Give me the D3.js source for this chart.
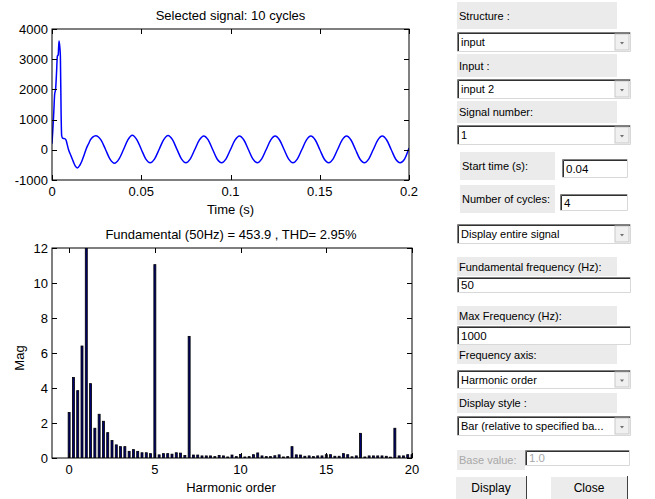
<!DOCTYPE html>
<html>
<head>
<meta charset="utf-8">
<script src="https://cdn.jsdelivr.net/npm/d3@7"></script>
<style>
  body { margin: 0; background: #fff; }
  svg { display: block; }
  text { font-family: "Liberation Sans", Arial, sans-serif; }
</style>
</head>
<body>
<svg id="canvas" width="655" height="499"></svg>
<script>
/************* Data **************/
// Selected signal (time in s, value)
var sigTime = [
  0, 0.0005, 0.001, 0.0015, 0.002, 0.0025, 0.003, 0.0035, 0.0039, 0.0043,
  0.0047, 0.0051, 0.0054, 0.006, 0.007, 0.0078, 0.0085, 0.0092, 0.0105, 0.012,
  0.013, 0.0142, 0.0155, 0.0167, 0.018, 0.0195, 0.0205, 0.0215, 0.0228, 0.0245,
  0.0275, 0.03, 0.0325, 0.035, 0.0375, 0.04, 0.0425, 0.045, 0.0475, 0.05,
  0.0525, 0.055, 0.0575, 0.06, 0.0625, 0.065, 0.0675, 0.07, 0.0725, 0.075,
  0.0775, 0.08, 0.0825, 0.085, 0.0875, 0.09, 0.0925, 0.095, 0.0975, 0.1,
  0.1025, 0.105, 0.1075, 0.11, 0.1125, 0.115, 0.1175, 0.12, 0.1225, 0.125,
  0.1275, 0.13, 0.1325, 0.135, 0.1375, 0.14, 0.1425, 0.145, 0.1475, 0.15,
  0.1525, 0.155, 0.1575, 0.16, 0.1625, 0.165, 0.1675, 0.17, 0.1725, 0.175,
  0.1775, 0.18, 0.1825, 0.185, 0.1875, 0.19, 0.1925, 0.195, 0.1975, 0.2
];
var sigValue = [
  200, 700, 1250, 1850, 2000, 2500, 3100, 3150, 3600, 3450,
  3100, 1200, 480, 380, 370, 330, 180, 20, -180, -400,
  -530, -600, -520, -380, -170, 80, 200, 330, 420, 465,
  320, 10, -310, -445, -310, 0, 330, 485, 340, 20,
  -300, -430, -300, 10, 330, 475, 335, 15, -300, -430,
  -300, 10, 320, 460, 330, 10, -305, -430, -300, 10,
  320, 460, 325, 10, -300, -430, -300, 10, 320, 455,
  325, 10, -300, -430, -300, 10, 320, 455, 325, 10,
  -305, -430, -300, 10, 320, 455, 325, 10, -305, -430,
  -300, 10, 320, 455, 325, 10, -305, -430, -310, 60
];

// Spectrum (harmonic order, magnitude in % of fundamental)
var harmOrder = [
  0, 0.25, 0.5, 0.75, 1, 1.25, 1.5, 1.75, 2, 2.25, 2.5, 2.75, 3, 3.25, 3.5, 3.75,
  4, 4.25, 4.5, 4.75, 5, 5.25, 5.5, 5.75, 6, 6.25, 6.5, 6.75, 7, 7.25, 7.5, 7.75,
  8, 8.25, 8.5, 8.75, 9, 9.25, 9.5, 9.75, 10, 10.25, 10.5, 10.75, 11, 11.25, 11.5, 11.75,
  12, 12.25, 12.5, 12.75, 13, 13.25, 13.5, 13.75, 14, 14.25, 14.5, 14.75, 15, 15.25, 15.5, 15.75,
  16, 16.25, 16.5, 16.75, 17, 17.25, 17.5, 17.75, 18, 18.25, 18.5, 18.75, 19, 19.25, 19.5, 19.75, 20
];
var harmMag = [
  2.6, 4.6, 3.85, 6.4, 100, 4.25, 1.7, 2.5, 2.1, 1.45, 1.0, 0.75, 0.65, 0.65, 0.38, 0.48,
  0.38, 0.3, 0.3, 0.25, 11.05, 0.18, 0.25, 0.25, 0.22, 0.3, 0.28, 0.14, 6.95, 0.17, 0.17, 0.12,
  0.12, 0.12, 0.08, 0.15, 0.12, 0.06, 0.17, 0.08, 0.2, 0.06, 0.08, 0.19, 0.29, 0.12, 0.08, 0.08,
  0.13, 0.18, 0.06, 0.08, 0.65, 0.18, 0.17, 0.1, 0.12, 0.08, 0.12, 0.12, 0.19, 0.19, 0.1, 0.1,
  0.25, 0.19, 0.07, 0.12, 1.41, 0.06, 0.12, 0.12, 0.12, 0.12, 0.1, 0.05, 1.7, 0.12, 0.12, 0.19, 0.19
];

// Axis ticks
var timeTicks = [0, 0.05, 0.1, 0.15, 0.2];
var sigTicks = [-1000, 0, 1000, 2000, 3000, 4000];
var harmTicks = [0, 5, 10, 15, 20];
var magTicks = [0, 2, 4, 6, 8, 10, 12];

var topTitle = "Selected signal: 10 cycles";
var bottomTitle = "Fundamental (50Hz) = 453.9 , THD= 2.95%";

// Control panel
var panelItems = [
  {kind: "label", text: "Structure :", x: 457, y: 2, w: 160, h: 27},
  {kind: "popup", text: "input", x: 457, y: 32, w: 174, h: 20},
  {kind: "label", text: "Input :", x: 457, y: 54, w: 160, h: 23},
  {kind: "popup", text: "input 2", x: 457, y: 79, w: 174, h: 20},
  {kind: "label", text: "Signal number:", x: 457, y: 101, w: 160, h: 22},
  {kind: "popup", text: "1", x: 457, y: 125, w: 174, h: 20},
  {kind: "label", text: "Start time (s):", x: 460, y: 152, w: 95, h: 28},
  {kind: "edit", text: "0.04", x: 562, y: 159, w: 66, h: 19},
  {kind: "label", text: "Number of cycles:", x: 460, y: 185, w: 95, h: 28},
  {kind: "edit", text: "4", x: 560, y: 194, w: 68, h: 17},
  {kind: "popup", text: "Display entire signal", x: 457, y: 224, w: 174, h: 20},
  {kind: "label", text: "Fundamental frequency (Hz):", x: 457, y: 257, w: 160, h: 19},
  {kind: "edit", text: "50", x: 457, y: 277, w: 174, h: 16},
  {kind: "label", text: "Max Frequency (Hz):", x: 457, y: 306, w: 160, h: 19},
  {kind: "edit", text: "1000", x: 457, y: 326, w: 174, h: 19},
  {kind: "label", text: "Frequency axis:", x: 457, y: 345, w: 160, h: 19},
  {kind: "popup", text: "Harmonic order", x: 457, y: 370, w: 174, h: 19},
  {kind: "label", text: "Display style :", x: 457, y: 393, w: 160, h: 20},
  {kind: "popup", text: "Bar (relative to specified ba...", x: 457, y: 416, w: 174, h: 20},
  {kind: "labeloff", text: "Base value:", x: 457, y: 450, w: 68, h: 20},
  {kind: "editoff", text: "1.0", x: 525, y: 450, w: 105, h: 16},
  {kind: "button", text: "Display", x: 455, y: 476, w: 72, h: 24},
  {kind: "button", text: "Close", x: 550, y: 476, w: 78, h: 24}
];


/********** Initialisation *********/
var svg = d3.select("#canvas");

var topBox = {left: 52, right: 409, top: 29, bottom: 180};
var botBox = {left: 52, right: 412, top: 248, bottom: 458};
var tickLen = 5;


/********** Helpers ***********/
function drawFrame(g, box, x, y, xTicks, yTicks)
{
    g.append("rect")
        .attr("x", box.left).attr("y", box.top)
        .attr("width", box.right - box.left)
        .attr("height", box.bottom - box.top)
        .attr("fill", "none")
        .attr("stroke", "#000")
        .attr("stroke-width", 1);

    // ticks inward, on all four sides
    var tg = g.append("g").attr("stroke", "#000").attr("stroke-width", 1);
    xTicks.forEach(function(t) {
        var px = Math.round(x(t)) + 0.5;
        tg.append("line").attr("x1", px).attr("x2", px)
            .attr("y1", box.bottom).attr("y2", box.bottom - tickLen);
        tg.append("line").attr("x1", px).attr("x2", px)
            .attr("y1", box.top).attr("y2", box.top + tickLen);
    });
    yTicks.forEach(function(t) {
        var py = Math.round(y(t)) + 0.5;
        tg.append("line").attr("y1", py).attr("y2", py)
            .attr("x1", box.left).attr("x2", box.left + tickLen);
        tg.append("line").attr("y1", py).attr("y2", py)
            .attr("x1", box.right).attr("x2", box.right - tickLen);
    });

    g.append("g").selectAll("text")
        .data(xTicks).enter().append("text")
        .attr("x", function(d) { return x(d); })
        .attr("y", box.bottom + 16)
        .attr("text-anchor", "middle")
        .attr("font-size", 13)
        .text(function(d) { return String(d); });

    g.append("g").selectAll("text")
        .data(yTicks).enter().append("text")
        .attr("x", box.left - 4)
        .attr("y", function(d) { return y(d) + 4.5; })
        .attr("text-anchor", "end")
        .attr("font-size", 13)
        .text(function(d) { return String(d); });
}


/********** Top plot: signal ***********/
var xTime = d3.scaleLinear().domain([0, 0.2]).range([topBox.left, topBox.right]);
var ySig = d3.scaleLinear().domain([-1000, 4000]).range([topBox.bottom, topBox.top]);

var gTop = svg.append("g");

gTop.append("clipPath").attr("id", "clipTop")
    .append("rect")
    .attr("x", topBox.left).attr("y", topBox.top)
    .attr("width", topBox.right - topBox.left)
    .attr("height", topBox.bottom - topBox.top);

var sigLine = d3.line()
    .x(function(d, i) { return xTime(sigTime[i]); })
    .y(function(d) { return ySig(d); })
    .curve(d3.curveMonotoneX);

gTop.append("path")
    .datum(sigValue)
    .attr("clip-path", "url(#clipTop)")
    .attr("d", sigLine)
    .attr("fill", "none")
    .attr("stroke", "#0000ff")
    .attr("stroke-width", 1.5);

drawFrame(gTop, topBox, xTime, ySig, timeTicks, sigTicks);

gTop.append("text")
    .attr("x", (topBox.left + topBox.right) / 2)
    .attr("y", 20)
    .attr("text-anchor", "middle")
    .attr("font-size", 13)
    .text(topTitle);

gTop.append("text")
    .attr("x", (topBox.left + topBox.right) / 2)
    .attr("y", 214)
    .attr("text-anchor", "middle")
    .attr("font-size", 13)
    .text("Time (s)");


/********** Bottom plot: spectrum ***********/
var xHarm = d3.scaleLinear().domain([-1, 20]).range([botBox.left, botBox.right]);
var yMag = d3.scaleLinear().domain([0, 12]).range([botBox.bottom, botBox.top]);

var gBot = svg.append("g");

gBot.append("clipPath").attr("id", "clipBot")
    .append("rect")
    .attr("x", botBox.left).attr("y", botBox.top)
    .attr("width", botBox.right - botBox.left)
    .attr("height", botBox.bottom - botBox.top);

var barW = 2;

gBot.append("g")
    .attr("clip-path", "url(#clipBot)")
    .selectAll("rect")
    .data(harmMag)
    .enter()
    .append("rect")
    .attr("x", function(d, i) { return xHarm(harmOrder[i]) - barW / 2; })
    .attr("y", function(d) { return yMag(d); })
    .attr("width", barW)
    .attr("height", function(d) { return yMag(0) - yMag(d); })
    .attr("fill", "#000070")
    .attr("stroke", "#000")
    .attr("stroke-width", 0.8);

drawFrame(gBot, botBox, xHarm, yMag, harmTicks, magTicks);

gBot.append("text")
    .attr("x", (botBox.left + botBox.right) / 2 - 1)
    .attr("y", 239)
    .attr("text-anchor", "middle")
    .attr("font-size", 13)
    .text(bottomTitle);

gBot.append("text")
    .attr("x", (botBox.left + botBox.right) / 2 - 1)
    .attr("y", 492)
    .attr("text-anchor", "middle")
    .attr("font-size", 13)
    .text("Harmonic order");

gBot.append("text")
    .attr("transform", "translate(24,358) rotate(-90)")
    .attr("text-anchor", "middle")
    .attr("font-size", 13)
    .text("Mag");


/********** Control panel ***********/
var gPanel = svg.append("g").attr("font-size", 11);

panelItems.forEach(function(it) {
    var g = gPanel.append("g").attr("transform", "translate(" + it.x + "," + it.y + ")");

    if (it.kind == "label" || it.kind == "labeloff") {
        g.append("rect").attr("width", it.w).attr("height", it.h).attr("fill", "#ebebeb");
        g.append("text")
            .attr("x", 2)
            .attr("y", it.h / 2 + 4)
            .attr("fill", it.kind == "label" ? "#000" : "#a8a8a8")
            .text(it.text);
        return;
    }

    if (it.kind == "button") {
        g.append("rect").attr("width", it.w).attr("height", it.h).attr("fill", "#ececec");
        g.append("path").attr("d", "M0.5," + it.h + "V0.5H" + (it.w - 1))
            .attr("fill", "none").attr("stroke", "#fff");
        g.append("path").attr("d", "M" + (it.w - 0.5) + ",0V" + it.h)
            .attr("fill", "none").attr("stroke", "#404040");
        g.append("text")
            .attr("x", it.w / 2)
            .attr("y", it.h / 2 + 4)
            .attr("text-anchor", "middle")
            .attr("font-size", 12)
            .text(it.text);
        return;
    }

    // edit / popup: white sunken box
    g.append("rect").attr("width", it.w).attr("height", it.h).attr("fill", "#fff");
    g.append("path").attr("d", "M0.5," + it.h + "V0.5H" + it.w)
        .attr("fill", "none").attr("stroke", "#808080");
    g.append("path").attr("d", "M1.5," + (it.h - 1) + "V1.5H" + (it.w - 1))
        .attr("fill", "none").attr("stroke", "#303030");
    g.append("path").attr("d", "M0," + (it.h - 0.5) + "H" + (it.w - 0.5) + "V0")
        .attr("fill", "none").attr("stroke", "#d8d8d8");

    g.append("text")
        .attr("x", 4)
        .attr("y", it.h / 2 + 4)
        .attr("fill", it.kind == "editoff" ? "#a8a8a8" : "#000")
        .attr("font-size", it.kind == "popup" ? 11 : 11.5)
        .text(it.text);

    if (it.kind == "popup") {
        var bx = it.w - 16;
        g.append("rect").attr("x", bx).attr("y", 2).attr("width", 14).attr("height", it.h - 4)
            .attr("fill", "#f0f0f0").attr("stroke", "#c8c8c8").attr("stroke-width", 1);
        var cx = bx + 7, cy = it.h / 2 + 1;
        g.append("path")
            .attr("d", "M" + (cx - 2) + "," + (cy - 1) + "H" + (cx + 2) + "L" + cx + "," + (cy + 1.5) + "Z")
            .attr("fill", "#707070");
    }
});
</script>
</body>
</html>
